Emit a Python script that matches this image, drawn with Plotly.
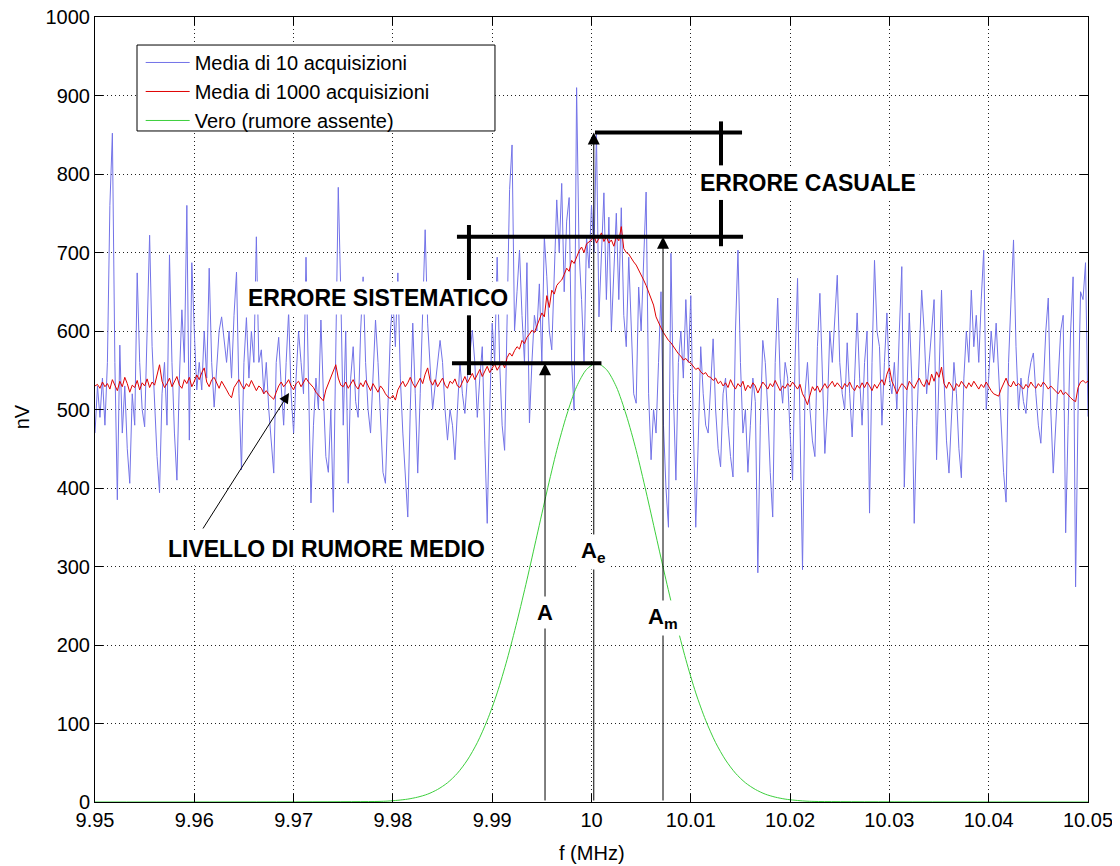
import numpy as np
import plotly.graph_objects as go

F_START = 9.95
F_STEP = 0.00025

# Media di 10 acquisizioni (nV)
blue_vals = [
    470,530,490,540,480,560,760,852,560,385,
    582,470,530,450,406,520,480,674,560,500,
    478,620,722,580,500,440,394,520,560,480,
    697,560,470,410,540,627,560,760,461,687,
    600,525,560,525,600,540,680,560,503,560,
    600,618,590,560,600,540,620,675,520,423,
    560,617,540,600,560,720,560,576,520,560,
    500,460,419,560,592,530,480,560,624,520,
    470,540,600,560,520,694,540,381,480,540,
    500,614,520,440,420,500,369,600,783,650,
    480,600,406,540,580,510,490,600,669,560,
    500,470,540,614,560,480,420,406,520,600,
    640,580,674,540,470,420,363,500,610,520,
    419,520,640,729,610,560,500,530,560,588,
    560,500,461,500,480,436,500,560,520,495,
    540,570,601,560,490,540,580,460,355,500,
    610,560,694,560,480,448,620,780,837,600,
    650,703,620,560,687,483,560,620,600,660,
    560,720,669,600,576,680,767,700,788,650,
    740,770,560,499,910,700,640,559,720,680,
    760,700,852,618,700,776,640,745,600,680,
    750,640,757,620,580,694,600,520,508,656,
    600,700,777,520,436,500,470,560,650,480,
    400,350,699,520,410,560,600,540,640,560,
    645,480,350,460,580,520,480,470,540,590,
    500,450,427,520,540,480,440,414,600,703,
    560,470,500,420,480,540,510,292,480,588,
    560,500,420,363,560,642,540,508,560,540,
    470,410,560,667,480,296,520,560,500,460,
    440,580,648,540,444,500,600,560,620,671,
    560,520,500,585,520,465,540,623,540,480,
    560,600,368,560,690,600,580,480,560,623,
    540,520,560,500,600,682,401,500,623,540,
    355,480,560,652,600,520,560,600,640,436,
    560,652,540,460,419,500,560,520,450,413,
    540,600,560,652,580,620,560,640,703,500,
    540,600,560,610,540,470,420,382,560,640,
    716,580,500,540,510,495,540,560,572,520,
    480,457,540,600,642,500,419,480,540,600,
    620,343,480,600,669,274,500,650,640,687,
    491,
]

# Media di 1000 acquisizioni (nV)
red_vals = [
    530,532,527,535,529,533,526,538,531,524,
    536,529,541,533,522,531,528,537,525,534,
    530,539,528,535,531,544,557,536,528,533,
    540,529,535,542,531,527,538,533,541,529,
    536,544,538,547,553,535,529,538,541,533,
    527,536,531,525,519,515,528,534,538,531,
    526,533,529,537,531,524,530,527,520,524,
    519,516,513,522,530,535,529,533,538,530,
    525,533,536,529,534,540,535,531,528,522,
    518,514,511,525,533,541,549,557,540,531,
    529,535,527,533,538,530,526,534,529,537,
    531,524,533,528,522,530,526,520,516,514,
    518,512,525,531,536,529,534,541,533,528,
    535,540,533,545,553,537,531,538,529,534,
    540,531,527,536,533,539,530,528,536,542,
    534,540,546,538,544,551,542,548,555,547,
    552,558,550,556,561,553,566,572,568,575,
    580,577,588,584,592,596,601,598,607,615,
    623,618,645,630,652,647,658,662,665,672,
    680,676,690,686,695,702,707,700,711,714,
    716,722,712,718,725,714,720,712,716,708,
    720,715,733,705,700,698,692,688,684,678,
    672,665,658,650,641,633,618,612,604,598,
    592,588,585,580,576,571,568,563,565,561,
    559,555,551,553,548,545,547,542,541,537,
    540,533,536,530,534,528,538,531,526,533,
    529,536,524,531,527,534,530,521,528,535,
    531,526,533,529,537,531,524,530,527,533,
    529,535,530,526,532,520,514,506,518,529,
    524,530,522,528,533,527,531,536,529,534,
    530,526,533,529,535,528,524,531,527,534,
    528,535,530,524,532,527,533,538,531,545,
    553,536,529,520,527,533,530,525,536,531,
    527,534,540,533,529,538,531,545,536,548,
    541,554,533,527,535,530,524,533,529,536,
    531,527,534,529,536,531,526,532,528,535,
    529,524,520,519,517,526,533,540,531,529,
    536,530,533,529,526,532,528,535,530,527,
    533,529,535,531,526,530,527,523,520,525,
    519,522,518,515,512,510,528,535,537,534,
    536,
]

# Vero (rumore assente): frequencies and values (nV)
green_f = [9.95] + [round(9.9785 + 0.001 * k, 4) for k in range(45)] + [10.05]
green_vals = [0,
    0.7,1.2,2.2,3.7,6.2,10,16,24.5,36.7,53.5,75.6,104,139,181.5,230,283,339,395,448,493,529,551,
    559,
    551,529,493,448,395,339,283,230,181.5,139,104,75.6,53.5,36.7,24.5,16,10,6.2,3.7,2.2,1.2,0.7,
    0]

x_ticks = [9.95, 9.96, 9.97, 9.98, 9.99, 10.0, 10.01, 10.02, 10.03, 10.04, 10.05]
x_ticktext = ["9.95", "9.96", "9.97", "9.98", "9.99", "10", "10.01", "10.02", "10.03", "10.04", "10.05"]
y_ticks = [0, 100, 200, 300, 400, 500, 600, 700, 800, 900, 1000]

blue_f = [F_START + F_STEP * i for i in range(len(blue_vals))]
red_f = [F_START + F_STEP * i for i in range(len(red_vals))]

FONT = "Liberation Sans, Arial, Helvetica, sans-serif"

fig = go.Figure()
fig.add_trace(go.Scatter(x=blue_f, y=blue_vals, mode="lines", name="Media di 10 acquisizioni",
                         line=dict(color="#7373e8", width=1)))
fig.add_trace(go.Scatter(x=red_f, y=red_vals, mode="lines", name="Media di 1000 acquisizioni",
                         line=dict(color="#e00000", width=1)))
fig.add_trace(go.Scatter(x=green_f, y=green_vals, mode="lines", name="Vero (rumore assente)",
                         line=dict(color="#3ccf3c", width=1, shape="spline", smoothing=0.8)))

shapes = []
def hline(y, x0, x1, w=4):
    shapes.append(dict(type="line", xref="x", yref="y", x0=x0, x1=x1, y0=y, y1=y,
                       line=dict(color="black", width=w)))
def vline(x, y0, y1, w=4):
    shapes.append(dict(type="line", xref="x", yref="y", x0=x, x1=x, y0=y0, y1=y1,
                       line=dict(color="black", width=w)))

hline(559, 9.98595, 10.0010)
hline(720, 9.98645, 10.01526)
hline(853, 10.00035, 10.01516)
vline(9.98766, 735, 665)
vline(9.98766, 620, 544)
vline(10.01304, 867, 811)
vline(10.01304, 767, 708)

# legend frame (MATLAB-style box, wider than the plotly legend's own box)
shapes.append(dict(type="rect", xref="paper", yref="paper", x0=0.0423, x1=0.4028,
                   y0=0.8548, y1=0.9643, fillcolor="white",
                   line=dict(color="black", width=1), layer="above"))

annotations = []
def arrow(x, y, ax, ay, w=1, size=2.4):
    annotations.append(dict(x=x, y=y, ax=ax, ay=ay, xref="x", yref="y", axref="x", ayref="y",
                            showarrow=True, arrowhead=2, arrowsize=size, arrowwidth=w,
                            arrowcolor="black", text=""))
arrow(9.99532, 559, 9.99532, 0)
arrow(10.00023, 853, 10.00023, 0)
arrow(10.00720, 720, 10.00720, 0)
arrow(9.96954, 521, 9.96078, 346.5, size=2.0)

def label(x, y, t, size=23, bold=True, bg="white"):
    annotations.append(dict(x=x, y=y, xref="x", yref="y", showarrow=False,
                            text=("<b>%s</b>" % t) if bold else t,
                            font=dict(family=FONT, size=size, color="black"),
                            bgcolor=bg, borderpad=3))

label(9.97850, 642, "ERRORE SISTEMATICO")
label(10.0218, 788, "ERRORE CASUALE")
label(9.97336, 322, "LIVELLO DI RUMORE MEDIO")
label(9.99532, 241, "A", size=22)
label(10.00023, 318, "A<sub>e</sub>", size=22)
label(10.00720, 234, "A<sub>m</sub>", size=22)

# axis titles
annotations.append(dict(x=0.5, y=0, xref="paper", yref="paper", yanchor="middle", yshift=-51,
                        showarrow=False, text="f (MHz)",
                        font=dict(family=FONT, size=20, color="black")))
annotations.append(dict(x=0, y=0.49, xref="paper", yref="paper", xanchor="center", xshift=-73,
                        showarrow=False, text="nV", textangle=-90,
                        font=dict(family=FONT, size=20, color="black")))

axis_common = dict(showline=True, linecolor="black", linewidth=1, mirror="allticks",
                   ticks="inside", ticklen=8, tickcolor="black",
                   showgrid=True, gridcolor="#222222", griddash="1px,3px", gridwidth=1,
                   zeroline=False, automargin=False, ticklabeloverflow="allow",
                   tickfont=dict(family=FONT, size=20, color="black"))

# page body has an 8px margin: compensate so the plot area lands where the reference has it
fig.update_layout(
    width=1120, height=866,
    margin=dict(l=87, r=40, t=9, b=72),
    paper_bgcolor="white", plot_bgcolor="white",
    font=dict(family=FONT, size=20, color="black"),
    xaxis=dict(range=[9.95, 10.05], tickvals=x_ticks, ticktext=x_ticktext, **axis_common),
    yaxis=dict(range=[0, 1000], tickvals=y_ticks, **axis_common),
    legend=dict(x=0.046, y=0.9669, xanchor="left", yanchor="top",
                bgcolor="rgba(0,0,0,0)", borderwidth=0,
                font=dict(family=FONT, size=20, color="black"),
                itemwidth=44),
    shapes=shapes,
    annotations=annotations,
    showlegend=True,
)

fig.write_html("out.html")
